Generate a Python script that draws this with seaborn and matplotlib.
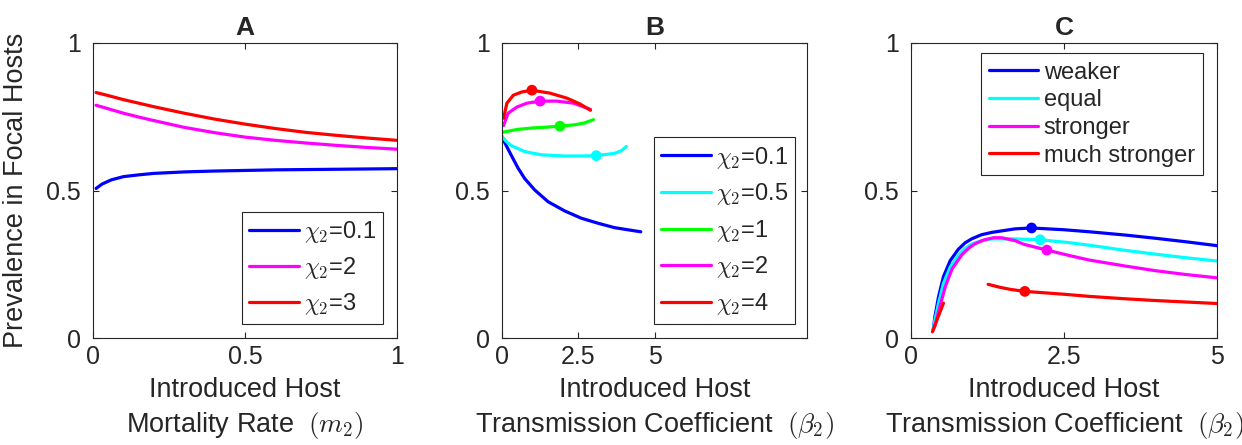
import matplotlib
matplotlib.use("Agg")
import matplotlib.pyplot as plt
import seaborn as sns

# ---- panel A: prevalence vs introduced host mortality rate
m2 = [0.01, 0.03, 0.06, 0.1, 0.15, 0.2, 0.3, 0.4, 0.5, 0.6, 0.7, 0.8, 0.9, 1.0]
a_chi01 = [0.507, 0.522, 0.536, 0.547, 0.553, 0.558, 0.563, 0.566, 0.568, 0.570, 0.571, 0.572, 0.573, 0.574]
a_chi2 = [0.789, 0.783, 0.774, 0.762, 0.749, 0.737, 0.714, 0.696, 0.681, 0.670, 0.661, 0.653, 0.646, 0.640]
a_chi3 = [0.832, 0.827, 0.819, 0.808, 0.796, 0.784, 0.762, 0.742, 0.725, 0.710, 0.697, 0.687, 0.678, 0.670]
a_labels = [r'$\chi_\mathsf{2}$=0.1', r'$\chi_\mathsf{2}$=2', r'$\chi_\mathsf{2}$=3']

# ---- panel B: prevalence vs transmission coefficient, several chi2
b_x01 = [0, 0.1, 0.31, 0.52, 0.74, 1.07, 1.51, 2.05, 2.6, 3.15, 3.69, 4.55]
b_chi01 = [0.683, 0.660, 0.618, 0.577, 0.541, 0.502, 0.462, 0.431, 0.406, 0.389, 0.374, 0.360]
b_x05 = [0, 0.15, 0.31, 0.74, 1.29, 2.05, 2.6, 3.09, 3.69, 3.9, 4.08]
b_chi05 = [0.683, 0.665, 0.652, 0.632, 0.621, 0.617, 0.617, 0.618, 0.626, 0.634, 0.649]
b_x1 = [0, 0.5, 1.0, 1.5, 1.9, 2.4, 2.7, 3.0]
b_chi1 = [0.697, 0.707, 0.712, 0.715, 0.718, 0.723, 0.729, 0.740]
b_x2 = [0.05, 0.2, 0.49, 0.82, 1.25, 1.8, 2.34, 2.9]
b_chi2 = [0.720, 0.762, 0.783, 0.796, 0.803, 0.803, 0.796, 0.775]
b_x4 = [0.05, 0.16, 0.37, 0.65, 0.98, 1.57, 2.13, 2.56, 2.9]
b_chi4 = [0.745, 0.796, 0.823, 0.834, 0.840, 0.830, 0.813, 0.793, 0.772]
b_dot_x = [None, 3.09, 1.9, 1.25, 0.98]
b_dot_y = [None, 0.618, 0.718, 0.803, 0.840]
b_labels = [r'$\chi_\mathsf{2}$=0.1', r'$\chi_\mathsf{2}$=0.5', r'$\chi_\mathsf{2}$=1',
			r'$\chi_\mathsf{2}$=2', r'$\chi_\mathsf{2}$=4']

# ---- panel C: competence scenarios
c_x_weak = [0.365, 0.39, 0.45, 0.53, 0.64, 0.77, 0.88, 0.99, 1.15, 1.32, 1.70, 1.97, 2.5, 2.92, 3.5, 4.0, 4.5, 5.0]
c_weak = [0.030, 0.072, 0.140, 0.208, 0.262, 0.300, 0.322, 0.336, 0.350, 0.358, 0.370, 0.373, 0.367, 0.360, 0.349, 0.338, 0.326, 0.313]
c_x_equal = [0.365, 0.39, 0.45, 0.53, 0.64, 0.77, 0.88, 0.99, 1.15, 1.32, 1.70, 2.11, 2.6, 3.0, 3.47, 4.0, 4.5, 5.0]
c_equal = [0.030, 0.060, 0.118, 0.185, 0.240, 0.280, 0.304, 0.318, 0.330, 0.336, 0.336, 0.333, 0.323, 0.312, 0.298, 0.284, 0.272, 0.261]
c_x_strong = [0.365, 0.39, 0.47, 0.56, 0.67, 0.83, 0.95, 1.05, 1.2, 1.35, 1.48, 1.70, 1.84, 2.22, 2.6, 2.92, 3.5, 4.0, 4.5, 5.0]
c_strong = [0.030, 0.040, 0.106, 0.174, 0.234, 0.282, 0.306, 0.320, 0.333, 0.340, 0.340, 0.330, 0.318, 0.298, 0.279, 0.264, 0.244, 0.228, 0.215, 0.204]
c_x_much1 = [0.35, 0.44, 0.53]
c_much1 = [0.021, 0.070, 0.118]
c_x_much2 = [1.26, 1.45, 1.62, 1.86, 2.2, 2.52, 2.92, 3.5, 4.0, 4.5, 5.0]
c_much2 = [0.182, 0.172, 0.165, 0.158, 0.153, 0.148, 0.141, 0.133, 0.127, 0.122, 0.117]
c_dot_x = [1.97, 2.11, 2.22, 1.86]
c_dot_y = [0.373, 0.333, 0.298, 0.158]
c_labels = ['weaker', 'equal', 'stronger', 'much stronger']

colors = ['#0000ff', '#00ffff', '#00ff00', '#ff00ff', '#ff0000']

sns.set_theme(style="white")
plt.rcParams['font.family'] = ['Liberation Sans', 'DejaVu Sans']
plt.rcParams['mathtext.fontset'] = 'cm'
plt.rcParams['axes.edgecolor'] = '#262626'
plt.rcParams['axes.linewidth'] = 0.8

LW = 2.3
fig = plt.figure(figsize=(12.42, 4.45), dpi=100)
axA = fig.add_axes([0.0749, 0.2404, 0.2448, 0.663])
axB = fig.add_axes([0.4042, 0.2404, 0.2456, 0.663])
axC = fig.add_axes([0.7335, 0.2404, 0.2464, 0.663])


def line(ax, x, y, c, label=None):
	sns.lineplot(x=x, y=y, color=c, lw=LW, ax=ax, sort=False, estimator=None,
				 label=label, legend=False)


def dot(ax, x, y, c):
	sns.scatterplot(x=[x], y=[y], color=c, s=60, edgecolor='none', ax=ax,
					legend=False, zorder=5)


# A
for y, c, lab in zip([a_chi01, a_chi2, a_chi3], [colors[0], colors[3], colors[4]], a_labels):
	line(axA, m2, y, c, lab)

# B
bx = [b_x01, b_x05, b_x1, b_x2, b_x4]
by = [b_chi01, b_chi05, b_chi1, b_chi2, b_chi4]
for i in range(5):
	line(axB, bx[i], by[i], colors[i], b_labels[i])
for i in range(1, 5):
	dot(axB, b_dot_x[i], b_dot_y[i], colors[i])

# C
line(axC, c_x_weak, c_weak, colors[0], c_labels[0])
line(axC, c_x_equal, c_equal, colors[1], c_labels[1])
line(axC, c_x_strong, c_strong, colors[3], c_labels[2])
line(axC, c_x_much2, c_much2, colors[4], c_labels[3])
line(axC, c_x_much1, c_much1, colors[4])
for x, y, c in zip(c_dot_x, c_dot_y, [colors[0], colors[1], colors[3], colors[4]]):
	dot(axC, x, y, c)

limits = [(0, 1), (0, 10), (0, 5)]
xticks = [[0, 0.5, 1], [0, 2.5, 5], [0, 2.5, 5]]
xtl = [['0', '0.5', '1'], ['0', '2.5', '5'], ['0', '2.5', '5']]
titles = ['A', 'B', 'C']
xlabels = ['Introduced Host\nMortality Rate  $(m_2)$',
		   'Introduced Host\nTransmission Coefficient  $(\\beta_2)$',
		   'Introduced Host\nTransmission Coefficient  $(\\beta_2)$']

for ax, lim, xt, tl, t, xl in zip([axA, axB, axC], limits, xticks, xtl, titles, xlabels):
	ax.set_xlim(*lim)
	ax.set_ylim(0, 1)
	ax.set_xticks(xt)
	ax.set_xticklabels(tl)
	ax.set_yticks([0, 0.5, 1])
	ax.set_yticklabels(['0', '0.5', '1'])
	ax.tick_params(direction='in', length=4, width=0.8, color='#262626',
				   labelsize=18, labelcolor='#262626', top=True, right=True,
				   bottom=True, left=True)
	ax.tick_params(axis='y', pad=9)
	ax.tick_params(axis='x', pad=5)
	ax.set_title(t, fontsize=19, fontweight='bold', pad=6)
	ax.set_xlabel(xl, fontsize=19.5, linespacing=1.3, labelpad=6)
	ax.set_ylabel('')

axA.set_ylabel('Prevalence in Focal Hosts', fontsize=19.5, labelpad=12)

leg_kw = dict(fontsize=17, frameon=True, fancybox=False, framealpha=1,
			  edgecolor='#262626', handlelength=2.1, handletextpad=0.22,
			  borderaxespad=0)
lA = axA.legend(loc='lower right', bbox_to_anchor=(0.954, 0.047), labelspacing=0.42,
				borderpad=0.3, **leg_kw)
lB = axB.legend(loc='lower right', bbox_to_anchor=(0.961, 0.047), labelspacing=0.45,
				borderpad=0.3, **leg_kw)
lC = axC.legend(loc='upper right', bbox_to_anchor=(0.954, 0.965), labelspacing=0.24,
				borderpad=0.35, **leg_kw)
for lg in (lA, lB, lC):
	lg.get_frame().set_linewidth(0.8)
	for h in lg.get_lines():
		h.set_linewidth(LW)

fig.savefig('out.png', dpi=100)
